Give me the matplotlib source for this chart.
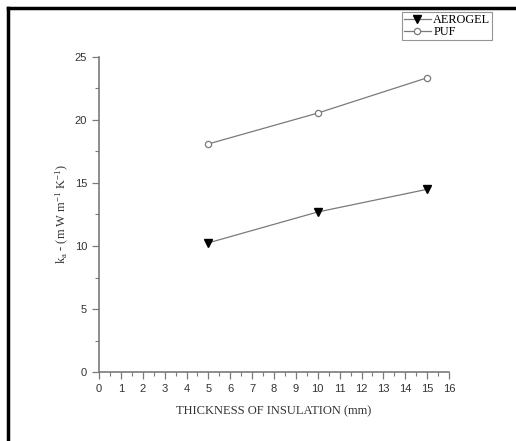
import matplotlib
matplotlib.use("Agg")
import matplotlib.pyplot as plt
from matplotlib.lines import Line2D
from matplotlib.ticker import MultipleLocator

thickness = [5, 10, 15]
aerogel = [10.25, 12.7, 14.5]
puf = [18.1, 20.55, 23.35]
x_ticks = list(range(0, 17))
y_ticks = [0, 5, 10, 15, 20, 25]

plt.rcParams['mathtext.fontset'] = 'custom'
plt.rcParams['mathtext.rm'] = 'Liberation Serif'
plt.rcParams['mathtext.it'] = 'Liberation Serif'
plt.rcParams['mathtext.default'] = 'regular'

fig = plt.figure(figsize=(5.16, 4.41), dpi=100)
ax = fig.add_axes([99/516, 69/441, 350/516, 315/441])

gray = '#7a7a7a'
ax.plot(thickness, aerogel, color=gray, lw=0.9, marker='v', ms=5.5,
        mfc='black', mec='black', label='AEROGEL')
ax.plot(thickness, puf, color=gray, lw=0.9, marker='o', ms=4.5,
        mfc='white', mec=gray, mew=0.9, label='PUF')

ax.set_xlim(0, 16)
ax.set_ylim(0, 25)
ax.set_xticks(x_ticks)
ax.set_yticks(y_ticks)
ax.xaxis.set_minor_locator(MultipleLocator(0.5))
ax.yaxis.set_minor_locator(MultipleLocator(2.5))
for s in ['top', 'right']:
    ax.spines[s].set_visible(False)
for s in ['left', 'bottom']:
    ax.spines[s].set_color(gray)
    ax.spines[s].set_linewidth(1.2)
ax.tick_params(which='major', direction='out', length=5, width=0.9, color=gray,
               labelsize=8, labelcolor='#333333')
ax.tick_params(which='minor', direction='out', length=3, width=0.8, color=gray)
for lab in ax.get_xticklabels() + ax.get_yticklabels():
    lab.set_family('Liberation Sans')

ax.set_xlabel('THICKNESS OF INSULATION (mm)', family='Liberation Serif',
              fontsize=9, color='#333333', labelpad=8)
ax.set_ylabel(r'k$_a$ - (m W m$^{-1}$ K$^{-1}$)', family='Liberation Serif',
              fontsize=9, color='#333333', labelpad=3)

leg = fig.legend(loc='upper left', bbox_to_anchor=(402/516, 1 - 12/441),
                 prop={'family': 'Liberation Serif', 'size': 8.8},
                 frameon=True, fancybox=False, handlelength=2.2,
                 handletextpad=0.2, borderpad=0.15, labelspacing=0.0,
                 borderaxespad=0)
leg.get_frame().set_edgecolor(gray)
leg.get_frame().set_linewidth(0.8)

fig.add_artist(Line2D([8/516, 8/516], [0, 1 - 8/441], transform=fig.transFigure,
                      color='black', lw=2.5))
fig.add_artist(Line2D([8/516, 1], [1 - 8/441, 1 - 8/441], transform=fig.transFigure,
                      color='black', lw=2.5))

fig.savefig('out.png', dpi=100)
